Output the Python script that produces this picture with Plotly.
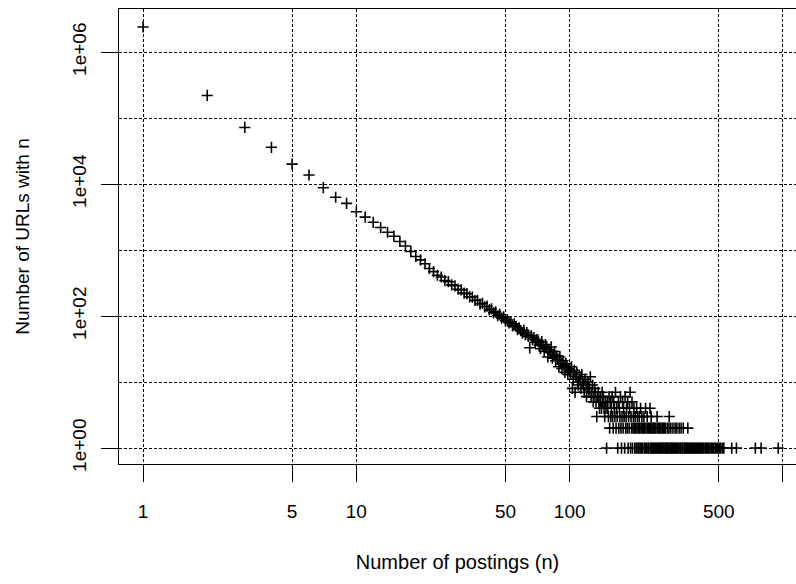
import plotly.graph_objects as go

# ---- data ----
# counts for n = 1..150 (one value per integer n)
counts_1_150 = [
    2400000, 220000, 72000, 36000, 20000, 13700, 8800, 6300, 5100, 3800,
    3150, 2630, 2190, 1860, 1620, 1350, 1150, 950, 800, 710,
    620, 525, 470, 415,
    390, 345, 331, 296, 287, 255, 249, 222, 218, 195, 194, 172, 173, 152, 156, 138,
    141, 124, 128, 112, 116, 101, 106, 93, 97, 85,
    88, 79, 81, 71, 76, 70, 62, 66, 60, 55, 61, 52, 56, 49, 33, 50, 44, 47, 40, 44,
    43, 36, 32, 41, 35, 29, 37, 33, 24, 31, 28, 34, 23, 26, 29, 21, 25, 22, 17, 24,
    19, 16, 21, 18, 14, 19, 17, 13, 16, 15,
    13, 17, 8, 11, 15, 7, 12, 14, 10, 9, 12, 11, 8, 13, 10, 9, 7, 11, 9, 6,
    8, 10, 7, 8, 12, 6, 7, 9, 5, 6, 8, 7, 5, 3, 6, 7, 5, 4, 6, 5,
    4, 7, 5, 6, 4, 3, 5, 4, 1, 5,
]
# counts for n = 151..260 (0 = no URL with that n)
counts_151_260 = [
    4, 3, 6, 2, 5, 3, 4, 6, 3, 2,
    5, 4, 3, 7, 2, 4, 3, 1, 5, 2,
    4, 3, 6, 2, 1, 3, 5, 2, 4, 3,
    1, 6, 2, 3, 4, 2, 5, 1, 3, 2,
    4, 7, 1, 3, 2, 5, 1, 2, 3, 4,
    2, 1, 3, 2, 1, 4, 2, 3, 1, 2,
    1, 3, 2, 1, 4, 2, 1, 3, 2, 1,
    0, 2, 3, 1, 2, 1, 4, 2, 0, 1,
    3, 2, 1, 2, 1, 0, 2, 4, 1, 2,
    3, 1, 2, 1, 0, 2, 1, 2, 0, 1,
    2, 1, 0, 2, 1, 0, 3, 1, 2, 0,
]
# sparse tail (n > 260)
tail_n = [261, 262, 264, 265, 266, 268, 269, 271, 272, 274, 275, 277, 278, 280, 281,
          283, 285, 287, 288, 290, 292, 293, 295, 297, 298, 300,
          301, 303, 305, 307, 310, 312, 314, 317, 318, 321, 324, 326, 329, 331, 333,
          336, 339, 341, 344, 347, 350, 353, 356, 358, 361, 365, 369, 372, 376, 380,
          384, 389, 393, 397, 402, 407, 411, 416, 421, 426, 432, 437, 443, 449, 455,
          461, 468, 474, 481, 488, 495, 503, 511, 520, 528, 575, 605, 742, 790, 950]
tail_count = [1, 2, 1, 2, 1, 2, 1, 1, 2, 1, 2, 1, 2, 1, 2,
              1, 1, 2, 1, 1, 2, 3, 1, 1, 2, 1,
              1, 1, 2, 1, 1, 2, 1, 1, 2, 1, 1, 2, 1, 1, 2,
              1, 1, 2, 1, 1, 1, 1, 1, 2, 1, 1, 1, 1, 1, 1,
              1, 1, 1, 1, 1, 1, 1, 1, 1, 1, 1, 1, 1, 1, 1,
              1, 1, 1, 1, 1, 1, 1, 1, 1, 1, 1, 1, 1, 1, 1]

x_tick_vals = [1, 5, 10, 50, 100, 500, 1000]
x_tick_text = ["1", "5", "10", "50", "100", "500", ""]
y_tick_vals = [1, 100, 10000, 1000000]
y_tick_text = ["1e+00", "1e+02", "1e+04", "1e+06"]
y_minor_grid = [10, 1000, 100000]

# ---- assemble points ----
xs, ys = [], []
for i, c in enumerate(counts_1_150):
    xs.append(i + 1); ys.append(c)
for i, c in enumerate(counts_151_260):
    if c > 0:
        xs.append(151 + i); ys.append(c)
for n, c in zip(tail_n, tail_count):
    xs.append(n); ys.append(c)

FONT = "Liberation Sans, Arial, sans-serif"
GRID = dict(gridcolor="black", gridwidth=1, griddash="3px,2px")

fig = go.Figure(go.Scatter(
    x=xs, y=ys, mode="markers",
    marker=dict(symbol="cross-thin", size=8, color="black",
                line=dict(color="black", width=1.6)),
    hoverinfo="x+y",
))

fig.update_layout(
    width=796, height=584,
    margin=dict(l=119, r=0, t=9, b=120),
    paper_bgcolor="white", plot_bgcolor="white",
    showlegend=False,
    font=dict(family=FONT, size=20, color="black"),
    xaxis=dict(
        type="log", range=[-0.1125, 3.061],
        tickmode="array", tickvals=x_tick_vals, ticktext=x_tick_text,
        ticks="outside", ticklen=17, tickwidth=1, tickcolor="black",
        ticklabelstandoff=13,
        tickfont=dict(family=FONT, size=19),
        showline=True, linecolor="black", linewidth=1, mirror=True,
        showgrid=True, zeroline=False, **GRID,
        title=dict(text="Number of postings (n)", standoff=34,
                   font=dict(family=FONT, size=20)),
    ),
    yaxis=dict(
        type="log", range=[-0.242, 6.652],
        tickmode="array", tickvals=y_tick_vals, ticktext=y_tick_text,
        tickangle=-90,
        ticks="outside", ticklen=17, tickwidth=1, tickcolor="black",
        ticklabelstandoff=7,
        tickfont=dict(family=FONT, size=19),
        showline=True, linecolor="black", linewidth=1, mirror=True,
        showgrid=True, zeroline=False, **GRID,
        minor=dict(tickvals=y_minor_grid, showgrid=True, ticklen=0, **GRID),
        title=dict(text="Number of URLs with n", standoff=34,
                   font=dict(family=FONT, size=19)),
    ),
)

fig.write_html("out.html")
